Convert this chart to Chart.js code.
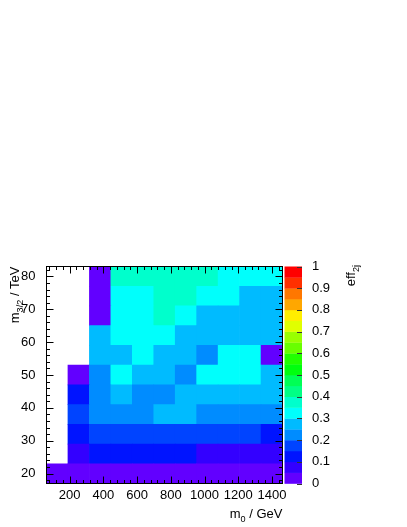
<!DOCTYPE html>
<html>
<head>
<meta charset="utf-8">
<script src="https://cdn.jsdelivr.net/npm/chart.js@4/dist/chart.umd.min.js"></script>
<style>
  html, body { margin: 0; padding: 0; background: #fff; }
  #c { display: block; }
</style>
</head>
<body>
<canvas id="c" width="407" height="527"></canvas>
<script>
// m0 bin centres (GeV) and m3/2 bin edges (TeV)
const m0Centers = [126.1, 253.4, 380.7, 507.9, 635.2, 762.5, 889.8, 1017.0, 1144.3, 1271.6, 1398.9];
const m32Edges = [17, 23, 29, 35, 41, 47, 53, 59, 65, 71, 77, 83];

// tick labels
const m0Ticks = [200, 400, 600, 800, 1000, 1200, 1400];
const m32Ticks = [20, 30, 40, 50, 60, 70, 80];
const effTicks = [0, 0.1, 0.2, 0.3, 0.4, 0.5, 0.6, 0.7, 0.8, 0.9, 1];

// eff_2j per m3/2 row (bottom -> top), null = empty bin
const eff20 = [0.03, 0.03, 0.03, 0.03, 0.03, 0.03, 0.03, 0.03, 0.03, 0.03, 0.03];
const eff26 = [null, 0.07, 0.12, 0.12, 0.12, 0.12, 0.12, 0.07, 0.07, 0.07, 0.07];
const eff32 = [null, 0.12, 0.17, 0.17, 0.17, 0.17, 0.17, 0.17, 0.17, 0.17, 0.12];
const eff38 = [null, 0.17, 0.22, 0.22, 0.22, 0.27, 0.27, 0.22, 0.22, 0.22, 0.22];
const eff44 = [null, 0.12, 0.22, 0.27, 0.22, 0.22, 0.27, 0.27, 0.27, 0.27, 0.27];
const eff50 = [null, 0.03, 0.22, 0.32, 0.27, 0.27, 0.22, 0.32, 0.32, 0.32, 0.27];
const eff56 = [null, null, 0.27, 0.27, 0.32, 0.27, 0.27, 0.22, 0.32, 0.32, 0.03];
const eff62 = [null, null, 0.27, 0.32, 0.32, 0.32, 0.27, 0.27, 0.27, 0.27, 0.27];
const eff68 = [null, null, 0.03, 0.32, 0.32, 0.37, 0.32, 0.27, 0.27, 0.27, 0.27];
const eff74 = [null, null, 0.03, 0.32, 0.32, 0.37, 0.37, 0.32, 0.32, 0.27, 0.27];
const eff80 = [null, null, 0.03, 0.37, 0.37, 0.37, 0.37, 0.37, 0.32, 0.32, 0.32];
const effRows = [eff20, eff26, eff32, eff38, eff44, eff50, eff56, eff62, eff68, eff74, eff80];

// 20-level rainbow palette, 0 -> 1
const palette = ['#6200ff', '#3300ff', '#0014ff', '#0044ff', '#008cff', '#00bbff', '#00fffc', '#00ffcc', '#00ff85', '#00ff55',
                 '#00ff0e', '#22ff00', '#69ff00', '#99ff00', '#e0ff00', '#ffee00', '#ffa700', '#ff7700', '#ff3000', '#ff0000'];
const colorFor = v => palette[Math.min(palette.length - 1, Math.floor(v / 0.05))];

const datasets = effRows.map((row, r) => {
    const cells = [], colors = [];
    row.forEach((v, i) => {
        if (v == null) return;
        cells.push({ x: m0Centers[i], y: [m32Edges[r], m32Edges[r + 1]] });
        colors.push(colorFor(v));
    });
    return {
        data: cells,
        backgroundColor: colors,
        borderWidth: 0,
        grouped: false,
        barPercentage: 1,
        categoryPercentage: 1
    };
});

const FONT = "'Liberation Sans', Arial, Helvetica, sans-serif";
Chart.defaults.font.family = FONT;
Chart.defaults.color = '#000';

const fixedTicks = vals => s => { s.ticks = vals.map(v => ({ value: v })); };

// text with subscripts, parts = [[text, isSub], ...]
function richText(ctx, parts, size, align) {
    const subSize = size * 0.7;
    let w = 0;
    parts.forEach(([t, sub]) => {
        ctx.font = (sub ? subSize : size) + 'px ' + FONT;
        w += ctx.measureText(t).width;
    });
    let x = align === 'right' ? -w : 0;
    parts.forEach(([t, sub]) => {
        ctx.font = (sub ? subSize : size) + 'px ' + FONT;
        ctx.fillText(t, x, sub ? size * 0.28 : 0);
        x += ctx.measureText(t).width;
    });
}

const rootDecor = {
    id: 'rootDecor',
    afterDraw(chart) {
        const { ctx, chartArea: a, scales } = chart;
        const sx = scales.x, sy = scales.y, sz = scales.z;
        ctx.save();
        ctx.strokeStyle = '#000';
        ctx.lineWidth = 1;

        // frame
        ctx.strokeRect(a.left, a.top, a.right - a.left, a.bottom - a.top);

        ctx.beginPath();
        // x ticks (bottom and top, inward)
        for (let v = 80; v < 1462.5; v += 40) {
            const px = Math.round(sx.getPixelForValue(v)) + 0.5;
            const len = v % 200 === 0 ? 7 : 3.5;
            ctx.moveTo(px, a.bottom); ctx.lineTo(px, a.bottom - len);
            ctx.moveTo(px, a.top); ctx.lineTo(px, a.top + len);
        }
        // y ticks (left and right, inward)
        for (let v = 18; v < 83; v += 2) {
            const py = Math.round(sy.getPixelForValue(v)) + 0.5;
            const len = v % 10 === 0 ? 7 : 3.5;
            ctx.moveTo(a.left, py); ctx.lineTo(a.left + len, py);
            ctx.moveTo(a.right, py); ctx.lineTo(a.right - len, py);
        }
        ctx.stroke();

        // colour bar
        const bx0 = a.right + 2, bx1 = a.right + 19.5;
        palette.forEach((c, i) => {
            const y0 = sz.getPixelForValue(i * 0.05), y1 = sz.getPixelForValue((i + 1) * 0.05);
            ctx.fillStyle = c;
            ctx.fillRect(bx0, y1, bx1 - bx0, y0 - y1 + 0.3);
        });
        ctx.beginPath();
        sz.ticks.forEach(t => {
            const py = Math.round(sz.getPixelForValue(t.value)) + 0.5;
            ctx.moveTo(bx1, py); ctx.lineTo(bx1 - 5, py);
        });
        ctx.strokeStyle = '#333';
        ctx.stroke();

        // axis titles
        ctx.fillStyle = '#000';
        ctx.textBaseline = 'alphabetic';
        ctx.textAlign = 'left';
        // x title
        ctx.save();
        ctx.translate(a.right, 518);
        richText(ctx, [['m', false], ['0', true], [' / GeV', false]], 13, 'right');
        ctx.restore();
        // y title
        ctx.save();
        ctx.translate(19, a.top);
        ctx.rotate(-Math.PI / 2);
        richText(ctx, [['m', false], ['3/2', true], [' / TeV', false]], 13, 'right');
        ctx.restore();
        // z title
        ctx.save();
        ctx.translate(355, a.top - 1.5);
        ctx.rotate(-Math.PI / 2);
        richText(ctx, [['eff', false], ['2j', true]], 13, 'right');
        ctx.restore();

        ctx.restore();
    }
};

new Chart(document.getElementById('c'), {
    type: 'bar',
    data: { datasets },
    options: {
        responsive: false,
        animation: false,
        layout: { padding: { top: 266.5, left: 0, right: 0, bottom: 0 } },
        plugins: { legend: { display: false }, tooltip: { enabled: false } },
        scales: {
            x: {
                type: 'linear', min: 62.5, max: 1462.5, offset: false,
                grid: { display: false }, border: { display: false },
                afterBuildTicks: fixedTicks(m0Ticks),
                ticks: {
                    autoSkip: false, maxRotation: 0,
                    padding: -4, font: { size: 13 }, callback: v => String(v)
                },
                afterFit: s => { s.height = 43.5; }
            },
            y: {
                type: 'linear', min: 17, max: 83,
                grid: { display: false }, border: { display: false },
                afterBuildTicks: fixedTicks(m32Ticks),
                ticks: { padding: 3, font: { size: 13 }, callback: v => String(v) },
                afterFit: s => { s.width = 46.5; }
            },
            z: {
                type: 'linear', position: 'right', min: 0, max: 1,
                grid: { display: false }, border: { display: false },
                afterBuildTicks: fixedTicks(effTicks),
                ticks: { padding: 21.5, font: { size: 13 }, callback: v => String(v) },
                afterFit: s => { s.width = 124.5; }
            }
        }
    },
    plugins: [rootDecor]
});
</script>
</body>
</html>
